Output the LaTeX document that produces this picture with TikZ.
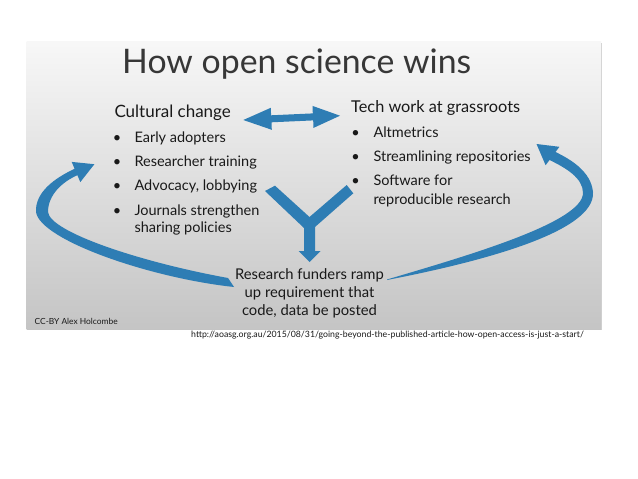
\documentclass[tikz,border=0pt]{standalone}
\usepackage{fontspec}
\setmainfont{Lato}
\definecolor{arrowblue}{RGB}{46,125,180}
\definecolor{txt}{RGB}{25,25,25}
\definecolor{titlegray}{RGB}{55,55,55}
\begin{document}
\begin{tikzpicture}[x=1pt,y=-1pt,
  lbl/.style={inner sep=0pt, anchor=base west, text=txt},
  ctr/.style={inner sep=0pt, anchor=base, text=txt},
  head/.style={font=\fontsize{16.3}{19}\selectfont},
  body/.style={font=\fontsize{14.5}{17}\selectfont},
  small/.style={font=\fontsize{8.4}{10}\selectfont},
  tiny/.style={font=\fontsize{8.75}{10}\selectfont},
  bigarrow/.style={fill=arrowblue}]
\useasboundingbox (0,0) rectangle (638,479);
\fill[white] (0,0) rectangle (638,479);
% slide
\fill[black!18] (28.2,43.2) rectangle (602.3,330.3);
\shade[top color=black!3, bottom color=black!23] (26.7,41.7) rectangle (601,329);
% title
\node[lbl, text=titlegray, font=\fontsize{33.8}{40}\selectfont] (title) at (122,73.3) {How open science wins};
% left column
\node[lbl, head, font=\fontsize{17}{20}\selectfont] (cult) at (114.3,117.3) {Cultural change};
\foreach \y/\t/\n in {142.3/Early adopters/l1, 166.7/Researcher training/l2, 190.8/{Advocacy, lobbying}/l3, 215/Journals strengthen/l4}{
  \node[ctr, body] (b\n) at (117,\y) {•};
  \node[lbl, body] (\n) at (134.3,\y) {\t};
}
\node[lbl, body] (l5) at (134.3,232.3) {sharing policies};
% right column
\node[lbl, head] (tech) at (351,112.3) {Tech work at grassroots};
\foreach \y/\t/\n in {137.3/Altmetrics/r1, 161.7/Streamlining repositories/r2, 185.7/Software for/r3}{
  \node[ctr, body] (b\n) at (355.5,\y) {•};
  \node[lbl, body] (\n) at (373.3,\y) {\t};
}
\node[lbl, body] (r4) at (373.3,204) {reproducible research};
% bottom
\node[ctr, font=\fontsize{14.8}{17}\selectfont] (f1) at (309.5,279.5) {Research funders ramp};
\node[ctr, font=\fontsize{14.8}{17}\selectfont] (f2) at (309.5,297.3) {up requirement that};
\node[ctr, font=\fontsize{14.8}{17}\selectfont] (f3) at (309.5,315) {code, data be posted};
\node[lbl, small] (cc) at (34.5,324) {CC-BY Alex Holcombe};
\node[lbl, tiny] (url) at (191,337.3) {http://aoasg.org.au/2015/08/31/going-beyond-the-published-article-how-open-access-is-just-a-start/};
% double arrow
\fill[bigarrow] (243.3,120) -- (270.8,107.8) -- (271.1,115.3) -- (312.8,113.4) -- (312.5,105.9) -- (340,115.7) -- (313.5,127.9) -- (313.2,120.4) -- (271.5,122.3) -- (271.8,129.8) -- cycle;
% Y arrow
\fill[bigarrow] (265,191) -- (275,185.7) -- (309.5,217) -- (346.7,185) -- (353.3,193.3) -- (315,227) -- (315,251) -- (320.5,251) -- (309.5,262) -- (298.5,251) -- (304,251) -- (304,228) -- cycle;
% left curved arrow
\fill[bigarrow] (234,287) .. controls (150,278) and (40,240) .. (36,212)
  .. controls (35,192) and (55,178) .. (74.6,168.8)
  -- (71.7,161.9) -- (94.4,164.2) -- (80.3,182.1) -- (77.4,175.2)
  .. controls (62,182) and (48,195) .. (48,212)
  .. controls (50,232) and (140,262) .. (228,278) -- cycle;
% right curved arrow
\fill[bigarrow] (387,280) .. controls (480,262) and (596,232) .. (593,192)
  .. controls (591,172) and (572,160) .. (555.5,152)
  -- (559.4,146.8) -- (536.5,144) -- (545.6,165.2) -- (549.5,160)
  .. controls (566,168) and (583,178) .. (583,193)
  .. controls (583,222) and (470,255) .. (387,279.5) -- cycle;
\end{tikzpicture}
\end{document}
